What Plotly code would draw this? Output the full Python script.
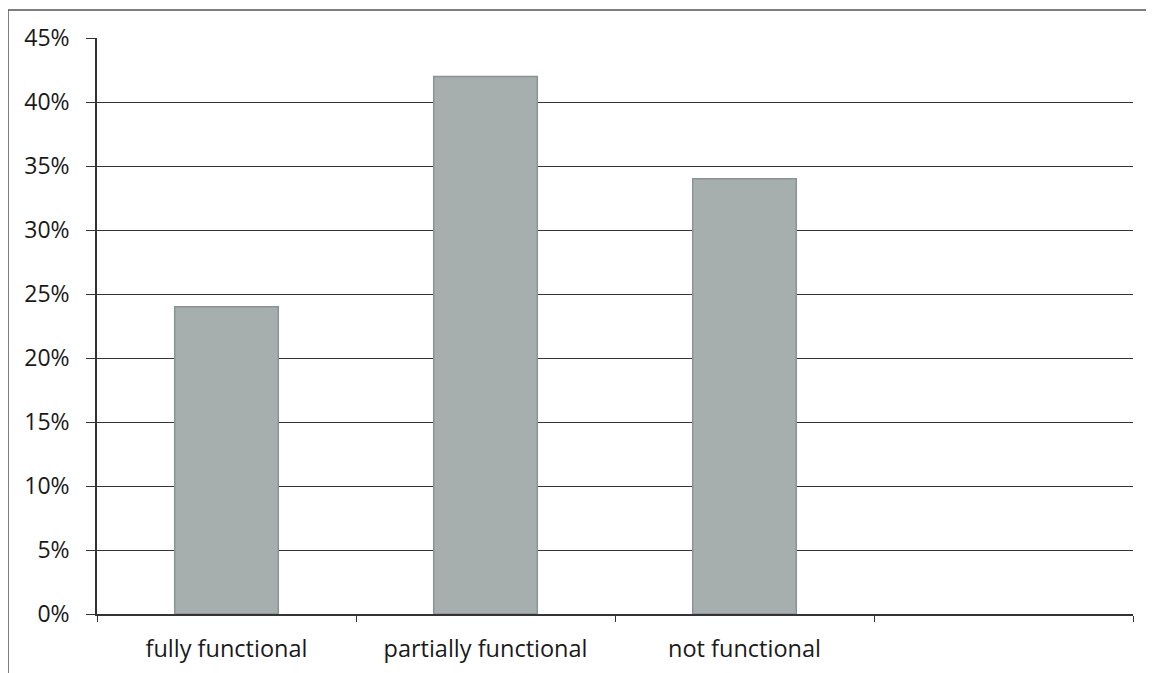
import plotly.graph_objects as go

categories = ["fully functional", "partially functional", "not functional", " "]
values = [0.24, 0.42, 0.34, None]
y_ticks = [0, 0.05, 0.10, 0.15, 0.20, 0.25, 0.30, 0.35, 0.40, 0.45]
y_labels = ["0%", "5%", "10%", "15%", "20%", "25%", "30%", "35%", "40%", "45%"]

fig = go.Figure(go.Bar(
    x=categories, y=values,
    marker=dict(color="#a6aeae", line=dict(color="#8a9494", width=1.5)),
))

fig.update_layout(
    width=1154, height=673,
    margin=dict(l=89, r=29, t=30, b=67),
    paper_bgcolor="white", plot_bgcolor="white",
    bargap=0.6,
    showlegend=False,
    font=dict(family="Open Sans", size=23, color="#1a1a1a"),
    shapes=[dict(type="rect", xref="paper", yref="paper",
                 x0=-0.0859, x1=1.2, y0=-0.3, y1=1.0486,
                 line=dict(color="#555", width=1.5), layer="below")],
)
fig.update_xaxes(
    type="category", categoryorder="array", categoryarray=categories,
    showline=True, linecolor="#333", linewidth=1.5,
    ticks="outside", tickson="boundaries", ticklen=6, tickcolor="#333",
    showgrid=False, tickfont=dict(size=23.5), range=[-0.5, 3.5],
    ticklabelstandoff=13,
)
fig.update_yaxes(
    range=[0, 0.45], tickvals=y_ticks, ticktext=y_labels,
    showline=True, linecolor="#333", linewidth=1.5,
    ticks="outside", ticklen=9, tickcolor="#333",
    showgrid=True, gridcolor="#333", gridwidth=1,
    zeroline=False, tickfont=dict(size=23), ticklabelstandoff=12,
)
fig.write_html("out.html")
